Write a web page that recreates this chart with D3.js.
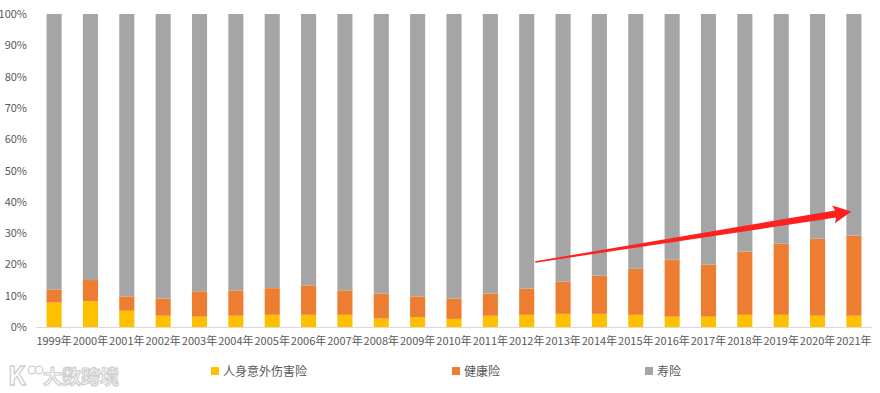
<!DOCTYPE html>
<html>
<head>
<meta charset="utf-8">
<script src="https://cdn.jsdelivr.net/npm/d3@7"></script>
<style>
  body { margin: 0; background: #fff; }
  text { font-family: "Microsoft YaHei", "Noto Sans CJK SC", sans-serif; }
</style>
</head>
<body>
<svg width="880" height="393"></svg>
<script>
let years = ["1999年", "2000年", "2001年", "2002年", "2003年", "2004年", "2005年", "2006年",
  "2007年", "2008年", "2009年", "2010年", "2011年", "2012年", "2013年", "2014年", "2015年",
  "2016年", "2017年", "2018年", "2019年", "2020年", "2021年"];

// share of premium, percent
let accident = [7.8, 8.2, 5.2, 3.6, 3.3, 3.6, 3.9, 3.9, 3.9, 2.7, 3.1, 2.6, 3.6, 3.9, 4.2, 4.2, 3.9, 3.3, 3.3, 3.9, 3.9, 3.6, 3.6];
let health = [4.2, 6.8, 4.6, 5.5, 8.1, 8.1, 8.5, 9.4, 7.8, 8.0, 6.7, 6.5, 7.1, 8.4, 10.3, 12.2, 14.7, 18.2, 16.6, 20.2, 22.7, 24.6, 25.6];
let life = accident.map((a, i) => 100 - a - health[i]);

let seriesNames = ["人身意外伤害险", "健康险", "寿险"];
let colors = ["#ffc000", "#ed7d31", "#a5a5a5"];
let yTicks = [0, 10, 20, 30, 40, 50, 60, 70, 80, 90, 100];

let svg = d3.select("svg");

let x = d3.scaleBand()
  .domain(years)
  .range([36, 872])
  .paddingInner(0.585)
  .paddingOuter(0.29);

let y = d3.scaleLinear()
  .domain([0, 100])
  .range([327, 14]);

let rows = years.map((yr, i) => ({
  year: yr,
  [seriesNames[0]]: accident[i],
  [seriesNames[1]]: health[i],
  [seriesNames[2]]: life[i]
}));

let stacked = d3.stack().keys(seriesNames)(rows);

// y axis labels
svg.append("g")
  .selectAll("text")
  .data(yTicks)
  .enter()
  .append("text")
  .attr("x", 27)
  .attr("y", d => y(d) + 4)
  .attr("text-anchor", "end")
  .attr("font-size", 11)
  .attr("fill", "#595959")
  .text(d => d + "%");

// bars
svg.append("g")
  .selectAll("g")
  .data(stacked)
  .enter()
  .append("g")
  .attr("fill", (d, i) => colors[i])
  .selectAll("rect")
  .data(d => d)
  .enter()
  .append("rect")
  .attr("x", d => x(d.data.year))
  .attr("width", x.bandwidth())
  .attr("y", d => y(d[1]))
  .attr("height", d => y(d[0]) - y(d[1]));

// x axis
svg.append("line")
  .attr("x1", 36)
  .attr("x2", 872)
  .attr("y1", y(0) + 0.5)
  .attr("y2", y(0) + 0.5)
  .style("stroke", "#d9d9d9");

svg.append("g")
  .selectAll("text")
  .data(years)
  .enter()
  .append("text")
  .attr("x", d => x(d) + x.bandwidth() / 2)
  .attr("y", 345)
  .attr("text-anchor", "middle")
  .attr("font-size", 11)
  .attr("fill", "#595959")
  .text(d => d);

// legend
let legendX = [211, 452, 645];
let legend = svg.append("g")
  .selectAll("g")
  .data(seriesNames)
  .enter()
  .append("g")
  .attr("transform", (d, i) => "translate(" + legendX[i] + ",367)");

legend.append("rect")
  .attr("width", 8)
  .attr("height", 8)
  .attr("fill", (d, i) => colors[i]);

legend.append("text")
  .attr("x", 12)
  .attr("y", 8.5)
  .attr("font-size", 12)
  .attr("fill", "#595959")
  .text(d => d);

// red trend arrow from 2012 to 2021
let x0 = x("2012年") + x.bandwidth() + 1, y0 = 262;
let x1 = x("2021年") + 5, y1 = 211.5;
let ang = Math.atan2(y1 - y0, x1 - x0);
let len = Math.hypot(x1 - x0, y1 - y0);
let headLen = 16, headW = 9;
let arrowPts = [
  [0, -0.7], [len - headLen, -3.6], [len - headLen - 2, -headW], [len, 0],
  [len - headLen - 2, headW], [len - headLen, 3.6], [0, 0.7]
];
svg.append("path")
  .attr("transform", "translate(" + x0 + "," + y0 + ") rotate(" + ang * 180 / Math.PI + ")")
  .attr("d", d3.line()(arrowPts) + "Z")
  .attr("fill", "#ff2020");

// watermark
let wm = svg.append("g").attr("transform", "translate(8,385)");
wm.append("text")
  .attr("x", 0)
  .attr("y", 0)
  .attr("font-size", 26)
  .attr("font-weight", "bold")
  .attr("fill", "#fff")
  .attr("stroke", "#cfcfcf")
  .attr("stroke-width", 1.3)
  .text("K");
wm.append("circle").attr("cx", 24).attr("cy", -15).attr("r", 3.8)
  .attr("fill", "none").attr("stroke", "#cfcfcf").attr("stroke-width", 1.3);
wm.append("circle").attr("cx", 31).attr("cy", -15).attr("r", 3.8)
  .attr("fill", "none").attr("stroke", "#cfcfcf").attr("stroke-width", 1.3);
wm.append("text")
  .attr("x", 35)
  .attr("y", -1)
  .attr("font-size", 19)
  .attr("font-weight", "bold")
  .attr("fill", "#fff")
  .attr("stroke", "#cfcfcf")
  .attr("stroke-width", 1.2)
  .text("大数跨境");
</script>
</body>
</html>
